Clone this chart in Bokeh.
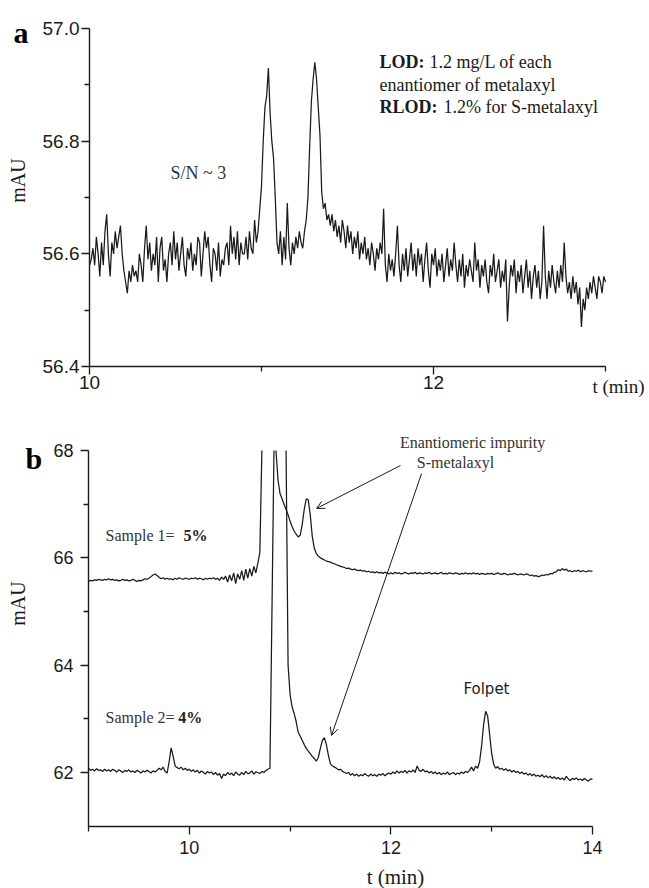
import numpy as np
from bokeh.plotting import figure
from bokeh.models import (FixedTicker, NumeralTickFormatter, Label, Arrow, OpenHead,
                          LinearAxis, CustomJSTickFormatter)
from bokeh.layouts import column
from bokeh.embed import file_html
from bokeh.resources import INLINE

# ---------------- Panel a data (t = 10.00 .. 13.00 min, step 0.01) ----------------
a_start, a_step = 10.0, 0.01
a_signal = [
    56.58, 56.59, 56.61, 56.58, 56.63, 56.60, 56.56, 56.62, 56.58, 56.64,
    56.67, 56.60, 56.56, 56.62, 56.60, 56.64, 56.61, 56.63, 56.65, 56.60,
    56.57, 56.55, 56.53, 56.57, 56.55, 56.58, 56.56, 56.57, 56.55, 56.60,
    56.58, 56.55, 56.61, 56.65, 56.59, 56.62, 56.57, 56.60, 56.58, 56.63,
    56.55, 56.61, 56.63, 56.57, 56.59, 56.55, 56.60, 56.62, 56.58, 56.64,
    56.59, 56.62, 56.57, 56.60, 56.63, 56.58, 56.56, 56.61, 56.59, 56.62,
    56.57, 56.60, 56.58, 56.63, 56.62, 56.56, 56.60, 56.64, 56.61, 56.63,
    56.58, 56.55, 56.61, 56.60, 56.57, 56.62, 56.56, 56.59, 56.58, 56.61,
    56.62, 56.58, 56.65, 56.60, 56.63, 56.59, 56.64, 56.58, 56.62, 56.60,
    56.60, 56.63, 56.59, 56.64, 56.61, 56.60, 56.66, 56.62, 56.64, 56.68,
    56.72, 56.80, 56.86, 56.88, 56.93, 56.85, 56.80, 56.77, 56.70, 56.62,
    56.60, 56.64, 56.58, 56.63, 56.59, 56.69, 56.61, 56.58, 56.62, 56.60,
    56.63, 56.61, 56.64, 56.62, 56.61, 56.64, 56.66, 56.70, 56.79, 56.87,
    56.91, 56.94, 56.91, 56.86, 56.81, 56.71, 56.68, 56.69, 56.66, 56.67,
    56.65, 56.67, 56.64, 56.66, 56.63, 56.65, 56.62, 56.66, 56.64, 56.61,
    56.65, 56.62, 56.64, 56.60, 56.63, 56.61, 56.64, 56.59, 56.62, 56.60,
    56.63, 56.59, 56.61, 56.58, 56.62, 56.60, 56.57, 56.61, 56.59, 56.62,
    56.60, 56.68, 56.58, 56.55, 56.60, 56.57, 56.59, 56.56, 56.60, 56.65,
    56.58, 56.55, 56.60, 56.57, 56.61, 56.56, 56.59, 56.62, 56.57, 56.60,
    56.56, 56.61, 56.58, 56.60, 56.55, 56.59, 56.62, 56.57, 56.54, 56.60,
    56.58, 56.61, 56.56, 56.59, 56.57, 56.60, 56.55, 56.58, 56.61, 56.56,
    56.59, 56.57, 56.62, 56.58, 56.55, 56.59, 56.56, 56.60, 56.54, 56.58,
    56.56, 56.59, 56.57, 56.55, 56.62, 56.57, 56.59, 56.54, 56.58, 56.56,
    56.59, 56.55, 56.53, 56.58, 56.56, 56.60, 56.55, 56.57, 56.59, 56.54,
    56.57, 56.55, 56.59, 56.48, 56.54, 56.58, 56.56, 56.59, 56.53, 56.57,
    56.55, 56.58, 56.53, 56.56, 56.59, 56.54, 56.57, 56.52, 56.56, 56.58,
    56.54, 56.57, 56.52, 56.55, 56.65, 56.56, 56.52, 56.57, 56.54, 56.58,
    56.55, 56.53, 56.57, 56.54, 56.58, 56.55, 56.62, 56.56, 56.53, 56.55,
    56.52, 56.56, 56.53, 56.55, 56.51, 56.54, 56.47, 56.52, 56.50, 56.54,
    56.52, 56.55, 56.53, 56.56, 56.54, 56.52, 56.56, 56.55, 56.53, 56.56,
    56.55,
]
a_xticks = [10, 12]
a_xminor = [11, 13]
a_yticks = [56.4, 56.6, 56.8, 57.0]
a_yminor = [56.5, 56.7, 56.9]

# ---------------- Panel b data (t = 9.00 .. 14.00 min, step 0.02) ----------------
# None = trace leaves the visible scale (off-scale main peak)
b_start, b_step = 9.0, 0.02
sample1 = [
    65.56, 65.58, 65.57, 65.59, 65.58, 65.60, 65.59, 65.58, 65.60, 65.59,
    65.61, 65.59, 65.60, 65.58, 65.59, 65.57, 65.58, 65.60, 65.58, 65.59,
    65.57, 65.58, 65.60, 65.58, 65.56, 65.58, 65.57, 65.59, 65.61, 65.60,
    65.62, 65.65, 65.68, 65.70, 65.67, 65.64, 65.61, 65.63, 65.60, 65.62,
    65.60, 65.61, 65.59, 65.62, 65.60, 65.63, 65.61, 65.60, 65.62, 65.61,
    65.60, 65.62, 65.61, 65.63, 65.60, 65.62, 65.61, 65.59, 65.62, 65.60,
    65.62, 65.61, 65.63, 65.60, 65.62, 65.58, 65.64, 65.60, 65.66, 65.55,
    65.68, 65.57, 65.72, 65.52, 65.70, 65.60, 65.76, 65.58, 65.79, 65.62,
    65.80, 65.66, 65.84, 65.72, 65.90,
    66.10, 68.0,
    None, None, None, None, None, None, 68.0,
    67.45, 67.20, 67.10, 67.00, 66.90, 66.80, 66.68, 66.58, 66.50, 66.44,
    66.39, 66.42, 66.62, 66.90, 67.10, 67.08, 66.80, 66.40, 66.18, 66.08,
    66.03, 66.00, 65.98, 65.96, 65.94, 65.93, 65.92, 65.90, 65.89, 65.87,
    65.86, 65.84, 65.83, 65.82, 65.80, 65.81, 65.79, 65.78, 65.79, 65.77,
    65.76, 65.77, 65.75, 65.76, 65.74, 65.75, 65.73, 65.74, 65.72, 65.74,
    65.72, 65.73, 65.71, 65.73, 65.72, 65.70,
    65.72, 65.70, 65.73, 65.71, 65.72, 65.70, 65.71, 65.73, 65.71, 65.70,
    65.72, 65.71, 65.73, 65.70, 65.72, 65.71, 65.70, 65.72, 65.71, 65.73,
    65.70, 65.71, 65.72, 65.70, 65.71, 65.73, 65.70, 65.71, 65.70, 65.72,
    65.71, 65.70, 65.72, 65.71, 65.69, 65.71, 65.70, 65.72, 65.70, 65.71,
    65.70, 65.72, 65.70, 65.71, 65.69, 65.71, 65.70, 65.69, 65.71, 65.70,
    65.71, 65.69, 65.70, 65.72, 65.70, 65.69, 65.71, 65.70, 65.68, 65.70,
    65.69, 65.71, 65.70, 65.68, 65.70, 65.69, 65.68, 65.70, 65.69, 65.67,
    65.68, 65.66, 65.67, 65.65, 65.66, 65.68, 65.67, 65.69, 65.68, 65.71,
    65.70, 65.73, 65.74, 65.78, 65.76, 65.80, 65.77, 65.79, 65.75, 65.76,
    65.74, 65.76, 65.75, 65.77, 65.74, 65.76, 65.75, 65.74, 65.76, 65.75,
    65.75,
]
sample2 = [
    62.08, 62.04, 62.06, 62.03, 62.07, 62.04, 62.05, 62.02, 62.06, 62.03,
    62.05, 62.02, 62.06, 62.04, 62.01, 62.05, 62.03, 62.00, 62.04, 62.02,
    62.05, 62.01, 62.03, 62.00, 62.04, 62.02, 61.99, 62.03, 62.01, 62.04,
    62.02, 61.99, 62.03, 62.01, 62.04, 62.08, 62.05, 62.10, 62.02, 61.99,
    62.20, 62.46, 62.30, 62.12, 62.09, 62.07, 62.10, 62.05, 62.08, 62.04,
    62.06, 62.02, 62.05, 62.01, 62.04, 61.99, 62.03, 62.00, 61.97, 62.02,
    61.99, 62.01, 61.96, 62.00, 61.95, 61.98, 61.89, 61.97, 61.94, 62.00,
    61.96, 61.99, 61.94, 62.01, 61.97, 61.95, 62.00, 61.96, 62.02, 61.98,
    61.99, 62.03, 61.97, 62.01, 62.00, 61.98, 62.02, 62.00, 62.04, 62.06,
    62.08, 65.00, 68.0, None, None, None, None, None, 68.0, 64.00,
    63.45, 63.22, 63.10, 62.95, 62.75, 62.68, 62.60, 62.52, 62.45, 62.40,
    62.35, 62.30, 62.26, 62.21, 62.28, 62.45, 62.60, 62.65, 62.52, 62.32,
    62.16, 62.12, 62.10, 62.08, 62.05, 62.06, 62.02, 62.00, 61.98, 62.00,
    61.95, 61.98, 61.94, 61.97, 61.93, 61.96, 61.94, 61.98, 61.95, 61.93,
    61.97, 61.94, 61.96, 61.93, 61.97, 61.95, 61.98, 61.94, 61.97, 61.99,
    61.97, 62.01, 61.98, 62.03, 61.99, 62.02, 62.00, 62.04, 61.99, 62.03,
    62.01, 62.05, 62.00, 62.12, 62.04, 62.02, 62.06, 62.01, 62.03, 61.99,
    62.02, 61.98, 62.01, 61.97, 62.00, 61.96, 61.99, 61.97, 62.01, 61.96,
    61.98, 62.00, 61.96, 61.99, 61.97, 62.01, 61.98, 62.02, 62.00, 62.04,
    62.10, 62.03, 62.12, 62.08, 62.20, 62.50, 62.90, 63.14, 63.05, 62.70,
    62.35, 62.15, 62.08, 62.11, 62.06, 62.08, 62.04, 62.07, 62.03, 62.05,
    62.01, 62.04, 62.00, 62.02, 61.98, 62.01, 61.97, 61.99, 61.95, 61.98,
    61.94, 61.97, 61.93, 61.95, 61.92, 61.96, 61.91, 61.94, 61.90, 61.93,
    61.89, 61.92, 61.88, 61.91, 61.87, 61.90, 61.86, 61.93, 61.88, 61.85,
    61.89, 61.87, 61.90, 61.86, 61.88, 61.85, 61.89, 61.86, 61.84, 61.88,
    61.87,
]
b_xticks = [10, 12, 14]
b_xminor = [9, 11, 13]
b_yticks = [62, 64, 66, 68]
b_yminor = [63, 65, 67]

a_time = np.round(a_start + a_step * np.arange(len(a_signal)), 4)
b_time = np.round(b_start + b_step * np.arange(len(sample1)), 4)
s1 = np.array(sample1, dtype=float)
s2 = np.array(sample2, dtype=float)
assert len(a_signal) == 301, len(a_signal)
assert len(sample1) == 251 and len(sample2) == 251

INK = "#1a1a1a"
SERIF = "Liberation Serif"
SANS = "Liberation Sans"
W = 649


def minor_axis(p, ticks, side, loc, bounds):
    ax = LinearAxis(ticker=FixedTicker(ticks=ticks), fixed_location=loc,
                    formatter=CustomJSTickFormatter(code="return ''"),
                    axis_line_color=None, major_tick_in=0, major_tick_out=5,
                    major_tick_line_color=INK, major_tick_line_width=1.3,
                    minor_tick_line_color=None)
    p.add_layout(ax, side)


def style_axes(p, xt, xm, yt, ym, yfmt, standoff, size, xb, yb):
    p.xaxis.ticker = FixedTicker(ticks=xt)
    p.yaxis.ticker = FixedTicker(ticks=yt)
    p.xaxis.formatter = NumeralTickFormatter(format="0")
    p.yaxis.formatter = NumeralTickFormatter(format=yfmt)
    p.xaxis.bounds = xb
    p.yaxis.bounds = yb
    p.xaxis.fixed_location = yb[0]
    p.yaxis.fixed_location = xb[0]
    for ax in (p.xaxis[0], p.yaxis[0]):
        ax.axis_line_color = INK
        ax.axis_line_width = 1.4
        ax.major_tick_line_color = INK
        ax.minor_tick_line_color = None
        ax.major_tick_line_width = 1.3
        ax.major_tick_in = 0
        ax.major_tick_out = 8
        ax.major_label_text_font = SANS
        ax.major_label_text_font_size = size
        ax.major_label_text_color = INK
        ax.major_label_standoff = standoff
    minor_axis(p, xm, "below", yb[0], xb)
    minor_axis(p, ym, "left", xb[0], yb)
    p.xgrid.visible = False
    p.ygrid.visible = False
    p.outline_line_color = None


def lab(p, x, y, text, size, font=SERIF, style="normal", align="left",
        baseline="middle", angle=0, color=INK):
    p.add_layout(Label(x=x, y=y, text=text, text_font=font, text_font_size=size,
                       text_font_style=style, text_align=align,
                       text_baseline=baseline, angle=angle, text_color=color))


# ---------------- Panel a ----------------
# frame covers the whole canvas; axes sit at fixed data locations
pa = figure(width=W, height=408, x_range=(9.48256, 13.25581),
            y_range=(56.32544, 57.04970), title=None,
            output_backend="svg", toolbar_location=None, min_border=0)
style_axes(pa, a_xticks, a_xminor, a_yticks, a_yminor, "0.0", 2, "19px",
           (10, 13), (56.4, 57.0))
pa.line(a_time, a_signal, line_color=INK, line_width=1.25)

lab(pa, 9.558, 56.9929, "a", "30px", style="bold", baseline="alphabetic", color="#000")
lab(pa, 9.584, 56.730, "mAU", "20px", align="center", angle=np.pi / 2)
lab(pa, 10.471, 56.744, "S/N ~ 3", "18px", color="#333")
lab(pa, 11.686, 56.940, "LOD:", "18px", style="bold")
lab(pa, 11.977, 56.940, "1.2 mg/L of each", "18px")
lab(pa, 11.686, 56.899, "enantiomer of metalaxyl", "18px")
lab(pa, 11.686, 56.860, "RLOD:", "18px", style="bold")
lab(pa, 12.058, 56.860, "1.2% for S-metalaxyl", "18px")
lab(pa, 13.0756, 56.3645, "t (min)", "19px", align="center")

# ---------------- Panel b ----------------
pb = figure(width=W, height=480, x_range=(8.12698, 14.56548),
            y_range=(59.8385, 68.7826), title=None,
            output_backend="svg", toolbar_location=None, min_border=0)
style_axes(pb, b_xticks, b_xminor, b_yticks, b_yminor, "0", 7, "18px",
           (9, 14), (61, 68))
pb.line(b_time, s1, line_color=INK, line_width=1.25)
pb.line(b_time, s2, line_color=INK, line_width=1.25)

lab(pb, 8.375, 67.851, "b", "30px", style="bold", baseline="alphabetic", color="#000")
lab(pb, 8.30, 65.149, "mAU", "20px", align="center", angle=np.pi / 2)
lab(pb, 9.169, 66.416, "Sample 1=", "16px", color="#333")
lab(pb, 9.9425, 66.416, "5%", "16px", style="bold", color="#222")
lab(pb, 9.169, 63.025, "Sample 2=", "16px", color="#333")
lab(pb, 9.890, 63.025, "4%", "16px", style="bold", color="#222")
lab(pb, 12.810, 68.149, "Enantiomeric impurity", "16px", align="center", color="#333")
lab(pb, 12.641, 67.776, "S-metalaxyl", "16px", align="center", color="#333")
lab(pb, 12.948, 63.565, "Folpet", "15px", font="DejaVu Sans", align="center", color="#222")
lab(pb, 12.0456, 60.0435, "t (min)", "21px", align="center")

for xs, ys, xe, ye in [(12.095, 67.72, 11.262, 66.92), (12.304, 67.57, 11.411, 62.69)]:
    pb.add_layout(Arrow(end=OpenHead(size=8, line_width=1, line_color=INK),
                        x_start=xs, y_start=ys, x_end=xe, y_end=ye,
                        line_width=1, line_color=INK))

layout = column(pa, pb, spacing=0)
open("out.html", "w").write(file_html(layout, INLINE))
